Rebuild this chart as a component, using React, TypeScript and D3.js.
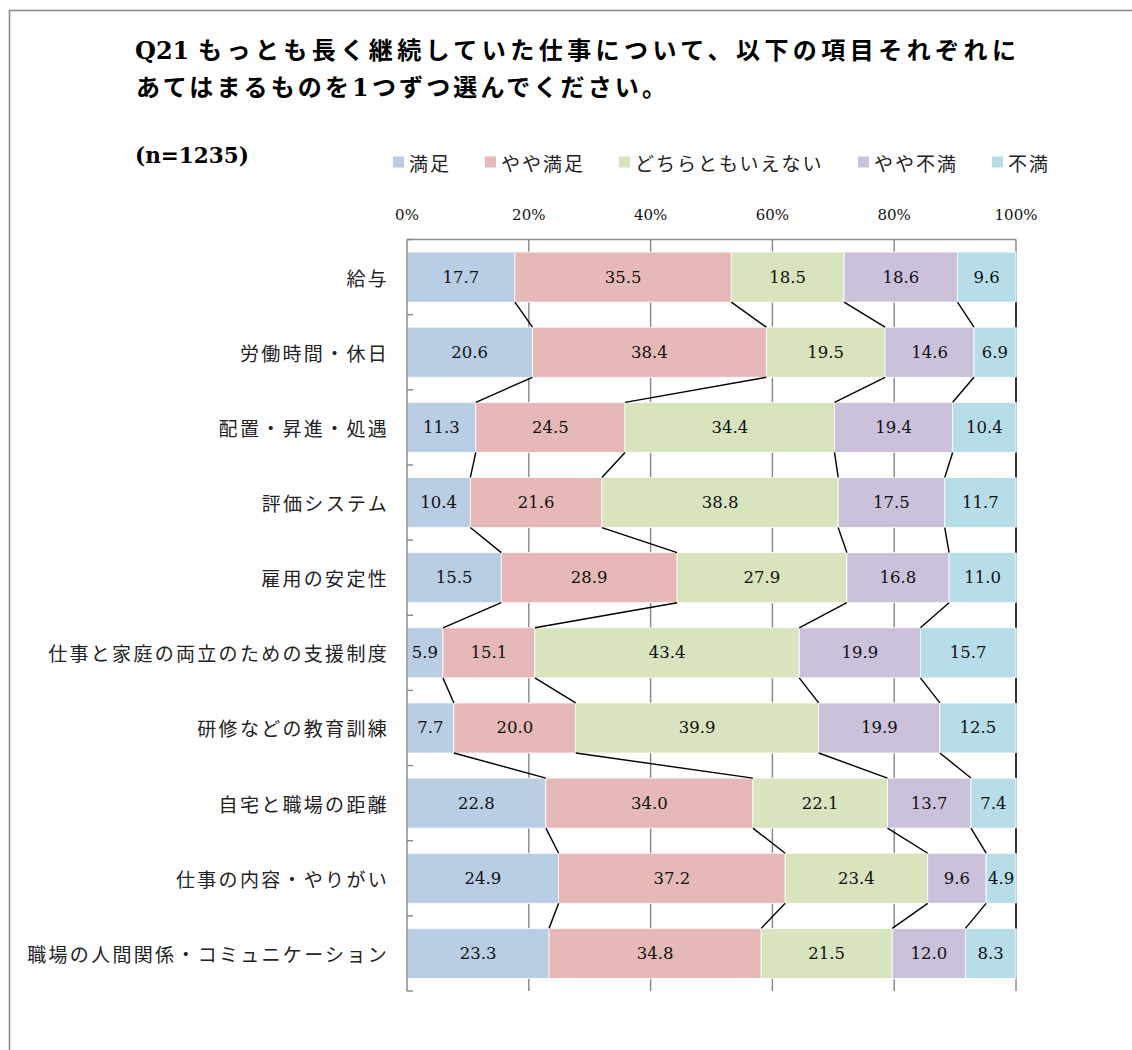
import * as d3 from "d3";

const categories = [
  "給与",
  "労働時間・休日",
  "配置・昇進・処遇",
  "評価システム",
  "雇用の安定性",
  "仕事と家庭の両立のための支援制度",
  "研修などの教育訓練",
  "自宅と職場の距離",
  "仕事の内容・やりがい",
  "職場の人間関係・コミュニケーション",
];
const seriesNames = ["満足", "やや満足", "どちらともいえない", "やや不満", "不満"];
const seriesColors = ["#B9CDE5", "#E6B9B8", "#D7E4BD", "#CCC1DA", "#B7DEE8"];
const manzoku = [17.7, 20.6, 11.3, 10.4, 15.5, 5.9, 7.7, 22.8, 24.9, 23.3];
const yayaManzoku = [35.5, 38.4, 24.5, 21.6, 28.9, 15.1, 20.0, 34.0, 37.2, 34.8];
const dochira = [18.5, 19.5, 34.4, 38.8, 27.9, 43.4, 39.9, 22.1, 23.4, 21.5];
const yayaFuman = [18.6, 14.6, 19.4, 17.5, 16.8, 19.9, 19.9, 13.7, 9.6, 12.0];
const fuman = [9.6, 6.9, 10.4, 11.7, 11.0, 15.7, 12.5, 7.4, 4.9, 8.3];
const xTicks = [0, 20, 40, 60, 80, 100];

const JP = "'Noto Sans CJK JP', sans-serif";
const SERIF = "'DejaVu Serif', 'Noto Sans CJK JP', serif";

export default function App() {
  const W = 1132;
  const H = 1050;
  const seriesValues = [manzoku, yayaManzoku, dochira, yayaFuman, fuman];
  const keys = seriesNames;

  // 100%積み上げ: 各行を合計で正規化（Excelと同じ）
  const table = categories.map((cat, i) => {
    const row: Record<string, any> = { cat };
    const total = d3.sum(seriesValues, (s) => s[i]);
    keys.forEach((k, j) => (row[k] = (seriesValues[j][i] / total) * 100));
    return row;
  });
  const stacked = d3.stack<any>().keys(keys)(table);

  const x = d3.scaleLinear().domain([0, 100]).range([407, 1016]);
  const y = d3
    .scaleBand<string>()
    .domain(categories)
    .range([239.5, 991])
    .paddingInner(1 / 3)
    .paddingOuter(1 / 6);
  const bw = y.bandwidth();
  const top = y.range()[0];
  const bottom = y.range()[1];
  const step = y.step();

  // 凡例の位置
  let lx = 393;
  const legendItems = seriesNames.map((name, i) => {
    const item = { name, color: seriesColors[i], x: lx };
    lx += 16 + name.length * 21 + 34;
    return item;
  });

  const gray = "#8c8c8c";

  return (
    <svg
      width={W}
      height={H}
      viewBox={`0 0 ${W} ${H}`}
      style={{ position: "absolute", left: 0, top: 0, background: "#fff" }}
    >
      <rect x={0} y={0} width={W} height={H} fill="#fff" />
      <rect x={9.5} y={10.5} width={W + 20} height={H + 20} fill="none" stroke={gray} strokeWidth={1.6} />

      <g fontFamily={SERIF} fontWeight="bold" fill="#000">
        <text x={135} y={50} dominantBaseline="central" fontSize={24}>
          Q21
        </text>
        <text x={198} y={50} dominantBaseline="central" fontSize={24} textLength={818} lengthAdjust="spacing">
          もっとも長く継続していた仕事について、以下の項目それぞれに
        </text>
        <text x={136} y={87} dominantBaseline="central" fontSize={24} textLength={530} lengthAdjust="spacing">
          あてはまるものを1つずつ選んでください。
        </text>
        <text x={135} y={155} dominantBaseline="central" fontSize={21.5}>
          (n=1235)
        </text>
      </g>

      <g fontFamily={JP} fontSize={19} letterSpacing={2} fill="#222">
        {legendItems.map((d) => (
          <g key={d.name}>
            <rect x={d.x} y={156.5} width={11} height={11} fill={d.color} />
            <text x={d.x + 16} y={162} dominantBaseline="central">
              {d.name}
            </text>
          </g>
        ))}
      </g>

      <g fontFamily={SERIF} fontSize={15} fill="#111" textAnchor="middle">
        {xTicks.map((t) => (
          <text key={t} x={x(t)} y={215} dominantBaseline="central">
            {t}%
          </text>
        ))}
      </g>

      {/* 目盛線 */}
      <g stroke={gray} strokeWidth={1.5}>
        {xTicks.slice(1).map((t) => (
          <line key={t} x1={x(t)} x2={x(t)} y1={top} y2={bottom} />
        ))}
      </g>

      {/* 棒 */}
      {stacked.map((s, k) => (
        <g key={s.key} fill={seriesColors[k]}>
          {s.map((d, i) => (
            <rect
              key={i}
              x={x(d[0])}
              y={y(categories[i])!}
              width={x(d[1]) - x(d[0])}
              height={bw}
              stroke="#fff"
              strokeWidth={0.8}
            />
          ))}
        </g>
      ))}

      {/* 区分線 */}
      <g stroke="#000" strokeWidth={1.4}>
        {stacked.map((s) =>
          s.slice(0, -1).map((d, i) => (
            <line
              key={`${s.key}-${i}`}
              x1={x(d[1])}
              y1={y(categories[i])! + bw}
              x2={x(s[i + 1][1])}
              y2={y(categories[i + 1])!}
            />
          ))
        )}
      </g>

      {/* 値ラベル */}
      <g fontFamily={SERIF} fontSize={16.5} fill="#111" textAnchor="middle">
        {stacked.map((s, k) =>
          s.map((d, i) => (
            <text
              key={`${s.key}-${i}`}
              x={(x(d[0]) + x(d[1])) / 2}
              y={y(categories[i])! + bw / 2}
              dominantBaseline="central"
            >
              {seriesValues[k][i].toFixed(1)}
            </text>
          ))
        )}
      </g>

      {/* 軸 */}
      <g stroke={gray} strokeWidth={1.5} fill="none">
        <line x1={x(0)} x2={x(100)} y1={top} y2={top} />
        <line x1={x(0)} x2={x(0)} y1={top} y2={bottom} />
        {d3.range(categories.length + 1).map((i) => (
          <line key={i} x1={x(0)} x2={x(0) + 6} y1={top + i * step} y2={top + i * step} />
        ))}
      </g>

      <g fontFamily={JP} fontSize={19} letterSpacing={2.3} fill="#222" textAnchor="end">
        {categories.map((c) => (
          <text key={c} x={389} y={y(c)! + bw / 2} dominantBaseline="central">
            {c}
          </text>
        ))}
      </g>
    </svg>
  );
}
